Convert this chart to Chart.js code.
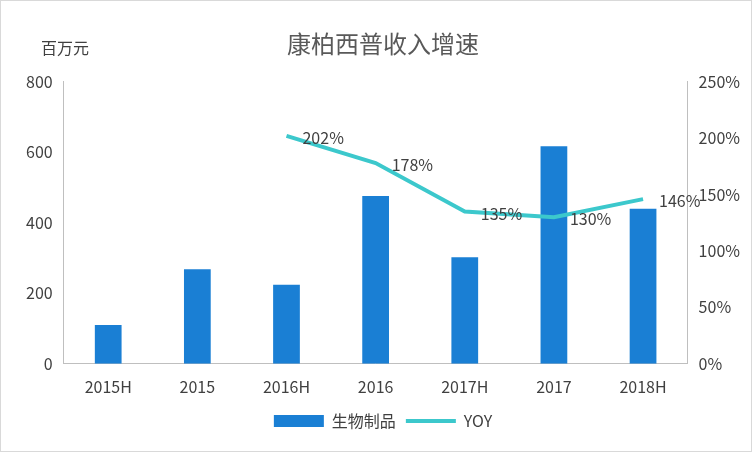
<!DOCTYPE html>
<html><head><meta charset="utf-8">
<script src="https://cdn.jsdelivr.net/npm/chart.js@4"></script>
<style>body{margin:0;background:#fff}#w{position:relative;width:750px;height:450px;border:1px solid #d9d9d9}</style>
</head><body><div id="w"><canvas id="c" width="750" height="450"></canvas></div>
<script>
const categories=["2015H","2015","2016H","2016","2017H","2017","2018H"];
const revenue=[110,268,224,476,302,617,440];
const yoy=[null,null,202,178,135,130,146];
const F='"Noto Sans CJK SC","Noto Sans",sans-serif';
Chart.defaults.font.family=F;Chart.defaults.color='#404040';
const lbl={id:'lbl',afterDatasetsDraw(ch){const c=ch.ctx,m=ch.getDatasetMeta(1);c.save();c.font='16px '+F;c.fillStyle='#404040';c.textBaseline='middle';
m.data.forEach((p,i)=>{if(yoy[i]==null)return;c.fillText(yoy[i]+'%',p.x+16,p.y+2);});
c.fillText('百万元',40,47);
c.restore();}};
new Chart(document.getElementById('c'),{data:{labels:categories,datasets:[
{type:'bar',label:'生物制品',data:revenue,backgroundColor:'#1a7fd4',yAxisID:'y',barPercentage:0.3,categoryPercentage:1,order:2},
{type:'line',label:'YOY',data:yoy,borderColor:'#3cc8cc',backgroundColor:'#3cc8cc',borderWidth:4,pointRadius:0,pointStyle:'line',yAxisID:'y1',order:1}]},
options:{responsive:false,animation:false,layout:{padding:{left:22,right:8,top:16,bottom:12}},
plugins:{title:{display:true,text:'康柏西普收入增速',font:{size:24,weight:'normal'},color:'#595959',padding:{top:12,bottom:24}},
legend:{position:'bottom',labels:{font:{size:16},boxWidth:50,boxHeight:12,color:'#404040',sort:(a,b)=>a.datasetIndex-b.datasetIndex,
generateLabels:ch=>{const l=Chart.defaults.plugins.legend.labels.generateLabels(ch);l.forEach(i=>{if(i.datasetIndex===1){i.pointStyle='line';i.lineWidth=4;i.strokeStyle='#3cc8cc';}else{i.pointStyle='rect';}});return l;},
usePointStyle:true,pointStyleWidth:50}},tooltip:{enabled:false}},
scales:{x:{grid:{display:false},border:{color:'#bfbfbf'},ticks:{font:{size:16},color:'#404040',padding:6}},
y:{min:0,max:800,ticks:{stepSize:200,font:{size:16},color:'#404040'},grid:{display:false},border:{color:'#bfbfbf'}},
y1:{position:'right',min:0,max:250,ticks:{stepSize:50,callback:v=>v+'%',font:{size:16},color:'#404040'},grid:{display:false},border:{color:'#bfbfbf'}}}},
plugins:[lbl]});
</script></body></html>
